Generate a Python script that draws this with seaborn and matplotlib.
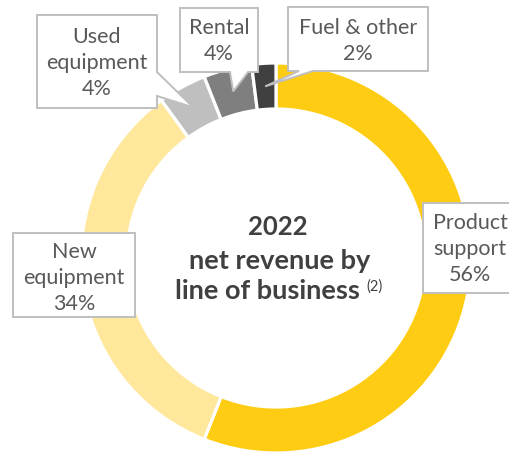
import numpy as np
import matplotlib
matplotlib.use("Agg")
import matplotlib.pyplot as plt
from matplotlib.patches import Polygon
import seaborn as sns

# Revenue mix by line of business (percent of net revenue)
categories = ["Product\nsupport", "New\nequipment", "Used\nequipment", "Rental", "Fuel & other"]
shares = [56, 34, 4, 4, 2]
colors = ["#FFCC14", "#FFE79C", "#BFBFBF", "#7F7F7F", "#404040"]
title_lines = ["2022", "net revenue by", "line of business"]
footnote = "(2)"

sns.set_theme(style="white")
plt.rcParams["font.family"] = ["Lato", "DejaVu Sans"]

W, H = 509, 454
fig = plt.figure(figsize=(W / 100, H / 100), dpi=100)
ax = fig.add_axes([0, 0, 1, 1])


def fy(py):
    """Convert a top-down pixel row into the axis y coordinate."""
    return H - py


cx, cy = 276, fy(258)
r_out, ring = 195, 46

wedges, _ = ax.pie(
    shares,
    colors=colors,
    startangle=90,
    counterclock=False,
    center=(cx, cy),
    radius=r_out,
    wedgeprops=dict(width=ring, edgecolor="white", linewidth=2.3),
)
ax.set_xlim(0, W)
ax.set_ylim(0, H)
ax.set_aspect("equal")
ax.axis("off")

text_color = "#595959"
box_edge = "#BFBFBF"


def wedge_anchor(w):
    """Middle of the ring at the wedge's mid angle."""
    ang = np.deg2rad((w.theta1 + w.theta2) / 2)
    r = r_out - ring / 2
    return cx + r * np.cos(ang), cy + r * np.sin(ang)


def callout(box, tip=None, side=None, base=None):
    """Rectangle callout (pixel box x0, y0, x1, y1) with an optional pointer."""
    x0, y0, x1, y1 = box
    pts = [(x0, fy(y0)), (x1, fy(y0))]
    if side == "right":
        pts += [(x1, fy(base[0])), tip, (x1, fy(base[1]))]
    pts += [(x1, fy(y1))]
    if side == "bottom":
        pts += [(base[1], fy(y1)), tip, (base[0], fy(y1))]
    pts += [(x0, fy(y1))]
    ax.add_patch(Polygon(pts, closed=True, facecolor="white",
                         edgecolor=box_edge, linewidth=1.4, zorder=5))


def label(i, x, py):
    txt = f"{categories[i]}\n{shares[i]}%"
    ax.text(x, fy(py), txt, ha="center", va="center", fontsize=15.5,
            color=text_color, linespacing=1.4, zorder=6)


# Product support
callout((423, 203, 530, 293))
label(0, 470, 249)
# New equipment
callout((13, 233, 135, 317))
label(1, 74, 278)
# Used equipment
callout((37, 15, 157, 108), tip=wedge_anchor(wedges[2]), side="right", base=(72, 96))
label(2, 97, 63)
# Rental
callout((180, 8, 258, 72), tip=wedge_anchor(wedges[3]), side="bottom", base=(230, 248))
label(3, 219, 41)
# Fuel & other
callout((288, 7, 428, 71), tip=wedge_anchor(wedges[4]), side="bottom", base=(299, 313))
label(4, 358, 41)

# Centre title
center_color = "#404040"
ax.text(278, fy(227), title_lines[0], ha="center", va="center",
        fontsize=18.5, fontweight="bold", color=center_color)
ax.text(280, fy(261), title_lines[1], ha="center", va="center",
        fontsize=19.5, fontweight="bold", color=center_color)
ax.text(267, fy(291), title_lines[2], ha="center", va="center",
        fontsize=19.5, fontweight="bold", color=center_color)
ax.text(366, fy(287), footnote, ha="left", va="center",
        fontsize=10.5, color=center_color)

fig.savefig("out.png", dpi=100, facecolor="white")
